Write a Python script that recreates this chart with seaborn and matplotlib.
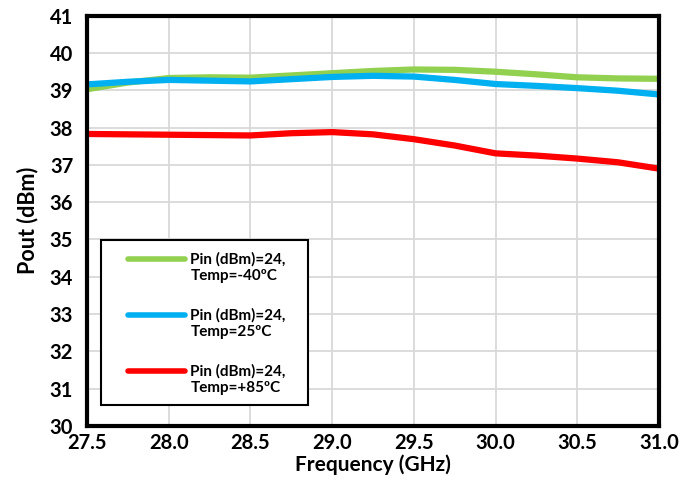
import matplotlib
matplotlib.use("Agg")
import matplotlib.pyplot as plt
import seaborn as sns
import pandas as pd
import numpy as np
from matplotlib.patches import Rectangle

freq = [27.5, 27.75, 28.0, 28.25, 28.5, 28.75, 29.0, 29.25, 29.5, 29.75, 30.0, 30.25, 30.5, 30.75, 31.0]
pout_m40 = [39.03, 39.21, 39.33, 39.35, 39.34, 39.40, 39.46, 39.52, 39.56, 39.55, 39.50, 39.43, 39.35, 39.32, 39.31]
pout_25 = [39.16, 39.23, 39.28, 39.26, 39.24, 39.30, 39.36, 39.39, 39.37, 39.28, 39.17, 39.12, 39.06, 38.99, 38.89]
pout_85 = [37.83, 37.82, 37.81, 37.80, 37.79, 37.85, 37.88, 37.82, 37.69, 37.52, 37.31, 37.25, 37.17, 37.07, 36.90]
labels = ["Pin (dBm)=24,\nTemp=-40ºC", "Pin (dBm)=24,\nTemp=25ºC", "Pin (dBm)=24,\nTemp=+85ºC"]
colors = ["#92D050", "#00B0F0", "#FF0000"]

df = pd.concat([
    pd.DataFrame({"Frequency": freq, "Pout": v, "Series": lab})
    for v, lab in zip([pout_m40, pout_25, pout_85], labels)
])

sns.set_theme(style="white")
plt.rcParams["font.family"] = ["Lato", "DejaVu Sans"]
plt.rcParams["text.color"] = "black"
plt.rcParams["axes.labelcolor"] = "black"
plt.rcParams["xtick.color"] = "black"
plt.rcParams["ytick.color"] = "black"

fig = plt.figure(figsize=(6.8, 4.94), dpi=100)
ax = fig.add_axes([0.128, 0.138, 0.841, 0.830])

sns.lineplot(data=df, x="Frequency", y="Pout", hue="Series", palette=colors,
             linewidth=4.5, ax=ax, legend=True)

ax.set_xlim(27.5, 31.0)
ax.set_ylim(30, 41)
ax.set_xticks([27.5 + 0.5 * i for i in range(8)])
ax.set_xticklabels([f"{27.5 + 0.5 * i:.1f}" for i in range(8)])
ax.set_yticks(range(30, 42))
ax.grid(True, color="#D9D9D9", linewidth=1.3)
ax.set_axisbelow(True)
for s in ax.spines.values():
    s.set_color("black")
    s.set_linewidth(3)
ax.tick_params(axis="both", labelsize=14.5, length=0)
ax.tick_params(axis="y", pad=10)
ax.tick_params(axis="x", pad=5)
for t in ax.get_xticklabels() + ax.get_yticklabels():
    t.set_fontweight("bold")
ax.set_xlabel("Frequency (GHz)", fontsize=15, fontweight="bold", labelpad=1)
ax.set_ylabel("Pout (dBm)", fontsize=15.5, fontweight="bold", labelpad=8)

# legend frame
ax.add_patch(Rectangle((0.0245, 0.051), 0.3615, 0.403, transform=ax.transAxes,
                       facecolor="white", edgecolor="black", linewidth=1.5, zorder=5))
leg = ax.legend(loc="upper left", bbox_to_anchor=(0.059, 0.442), frameon=False,
                handlelength=3.7, labelspacing=1.65, borderpad=0, handletextpad=0.35,
                prop={"weight": "bold", "size": 11})
leg.set_zorder(6)
for h in leg.get_lines():
    h.set_linewidth(4)
    h.set_ydata(np.asarray(h.get_ydata()) + 6.0)

fig.savefig("out.png", dpi=100)
